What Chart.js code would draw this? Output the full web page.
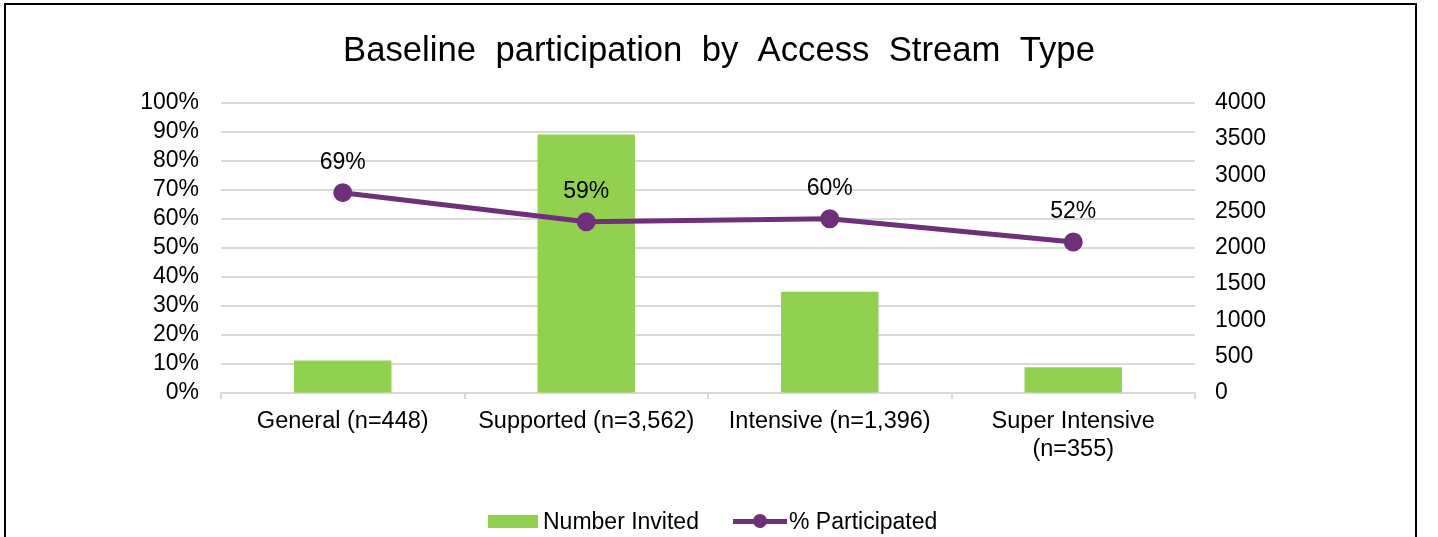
<!DOCTYPE html>
<html>
<head>
<meta charset="utf-8">
<script src="https://cdn.jsdelivr.net/npm/chart.js@4"></script>
<style>
  html, body { margin: 0; padding: 0; background: #fff; }
  body { width: 1438px; height: 537px; position: relative; overflow: hidden; font-family: "Liberation Sans", Arial, sans-serif; }
  #wrap { position: absolute; left: 0; top: 0; width: 1438px; height: 537px; }
  #frame { position: absolute; left: 4px; top: 3px; width: 1409px; height: 600px; border: 2px solid #000; pointer-events: none; }
  #legend { position: absolute; top: 508px; left: 0; width: 1438px; height: 26px; font-size: 23px; color: #000; }
  .item { position: absolute; top: 0; height: 26px; line-height: 26px; white-space: nowrap; }
  .swatch { position: absolute; }
</style>
</head>
<body>
<div id="wrap"><canvas id="chart"></canvas></div>
<div id="frame"></div>
<div id="legend">
  <div class="item" style="left:488px">
    <span class="swatch" style="left:0;top:7px;width:50px;height:13px;background:#92d050"></span>
    <span style="position:absolute;left:55px">Number Invited</span>
  </div>
  <div class="item" style="left:733px">
    <span class="swatch" style="left:0;top:11px;width:54px;height:5px;background:#6f2f7a"></span>
    <span class="swatch" style="left:20px;top:6px;width:14px;height:14px;border-radius:50%;background:#6f2f7a"></span>
    <span style="position:absolute;left:56px">% Participated</span>
  </div>
</div>
<script>
const categories = ["General (n=448)", "Supported (n=3,562)", "Intensive (n=1,396)", ["Super Intensive", "(n=355)"]];
const numberInvited = [448, 3562, 1396, 355];
const pctParticipated = [0.69, 0.59, 0.60, 0.52];
const pctLabels = ["69%", "59%", "60%", "52%"];

const fontFamily = '"Liberation Sans", Arial, sans-serif';
const purple = '#6f2f7a';
const green = '#92d050';
const gridGrey = '#d9d9d9';

// percentage labels above the line points
const pointLabels = {
    id: 'pointLabels',
    afterDatasetsDraw(chart) {
        const meta = chart.getDatasetMeta(1);
        const c = chart.ctx;
        c.save();
        c.font = '23px ' + fontFamily;
        c.fillStyle = '#000';
        c.textAlign = 'center';
        c.textBaseline = 'middle';
        meta.data.forEach((pt, i) => {
            c.fillText(pctLabels[i], pt.x, pt.y - 30);
        });
        c.restore();
    }
};

const ctx = document.getElementById('chart').getContext('2d');

new Chart(ctx, {
    data: {
        labels: categories,
        datasets: [{
            type: 'bar',
            label: 'Number Invited',
            data: numberInvited,
            backgroundColor: green,
            yAxisID: 'y1',
            barPercentage: 0.4,
            categoryPercentage: 1,
            order: 2
        }, {
            type: 'line',
            label: '% Participated',
            data: pctParticipated,
            borderColor: purple,
            backgroundColor: purple,
            borderWidth: 5,
            pointRadius: 7,
            pointHoverRadius: 7,
            yAxisID: 'y',
            order: 1
        }]
    },
    options: {
        responsive: true,
        maintainAspectRatio: false,
        animation: false,
        layout: { padding: 0 },
        plugins: {
            legend: { display: false },
            tooltip: { enabled: false },
            title: {
                display: true,
                text: 'Baseline  participation  by  Access  Stream  Type',
                color: '#000',
                font: { family: fontFamily, size: 34.7, weight: 'normal' },
                padding: { top: 31, bottom: 30 }
            }
        },
        scales: {
            x: {
                offset: true,
                grid: { drawOnChartArea: false, drawTicks: true, tickLength: 6, offset: true, color: gridGrey, lineWidth: 2 },
                border: { display: true, color: gridGrey, width: 2 },
                ticks: { color: '#000', font: { family: fontFamily, size: 23.5, lineHeight: 1.2 }, padding: 8, maxRotation: 0, autoSkip: false },
                afterFit(scale) { scale.height = 144; }
            },
            y: {
                position: 'left',
                min: 0,
                max: 1,
                ticks: {
                    stepSize: 0.1,
                    autoSkip: false,
                    color: '#000',
                    padding: 22,
                    font: { family: fontFamily, size: 23 },
                    callback: v => Math.round(v * 100) + '%'
                },
                grid: { color: gridGrey, lineWidth: 2, drawTicks: false },
                border: { display: false },
                afterFit(scale) { scale.width = 221; }
            },
            y1: {
                position: 'right',
                min: 0,
                max: 4000,
                ticks: {
                    stepSize: 500,
                    autoSkip: false,
                    color: '#000',
                    padding: 20,
                    font: { family: fontFamily, size: 23 },
                    callback: v => String(v)
                },
                grid: { drawOnChartArea: false, drawTicks: false },
                border: { display: false },
                afterFit(scale) { scale.width = 243; }
            }
        }
    },
    plugins: [pointLabels]
});
</script>
</body>
</html>
